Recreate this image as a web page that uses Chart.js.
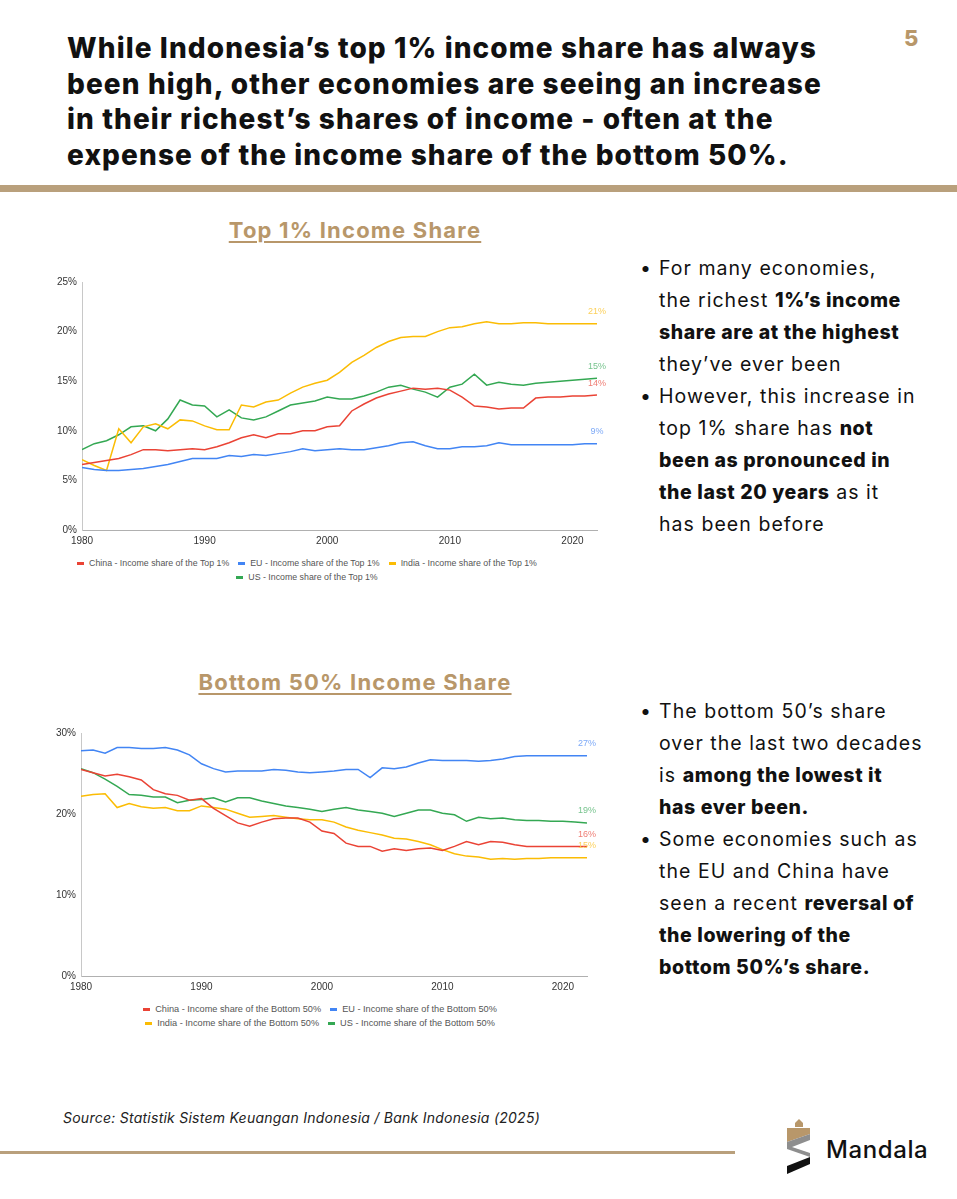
<!DOCTYPE html>
<html>
<head>
<meta charset="utf-8">
<script src="https://cdn.jsdelivr.net/npm/chart.js@4.4.1/dist/chart.umd.min.js"></script>
<style>
  body { margin: 0; background: #fff; }
  #page { position: relative; width: 957px; height: 1199px; overflow: hidden; font-family: Inter, "Open Sans", sans-serif; color: #111; }
  .title { position: absolute; left: 67px; top: 31px; width: 860px; font-size: 28px; font-weight: 800; line-height: 35.5px; letter-spacing: 1.1px; white-space: nowrap; }
  .pagenum { position: absolute; left: 904px; top: 25px; font-size: 22px; font-weight: 800; color: #b8976a; }
  .rule-top { position: absolute; left: 0; top: 185px; width: 957px; height: 7px; background: #b9a07c; }
  .rule-bottom { position: absolute; left: 0; top: 1151px; width: 735px; height: 3px; background: #b9a07c; }
  .subtitle { position: absolute; width: 710px; left: 0; text-align: center; font-size: 22px; font-weight: 700; letter-spacing: 1.2px; color: #b8976a; text-decoration: underline; text-underline-offset: 3px; }
  .chartbox { position: absolute; left: 0; }
  .legend { position: absolute; font-family: "Liberation Sans", Arial, sans-serif; color: #555; }
  .legend .row { display: flex; justify-content: center; gap: 9px; height: 14px; align-items: center; }
  .legend .item { display: flex; align-items: center; white-space: nowrap; }
  .legend .dash { display: inline-block; width: 7px; height: 3px; margin-right: 5px; }
  .bullets { position: absolute; left: 640px; width: 317px; font-size: 19.5px; line-height: 32px; letter-spacing: 1.05px; margin: 0; padding: 0; list-style: none; white-space: nowrap; }
  .bullets li { position: relative; padding-left: 19px; }
  .bullets li::before { content: "\2022"; position: absolute; left: 0; top: 0; }
  .bullets b { font-weight: 800; letter-spacing: 0.6px; }
  .source { position: absolute; left: 63px; top: 1109px; font-size: 14px; font-style: italic; letter-spacing: 0.25px; color: #222; }
  .brand { position: absolute; left: 826px; top: 1135px; font-size: 24px; font-weight: 500; letter-spacing: 0.6px; color: #111; }
</style>
</head>
<body>
<div id="page">
  <div class="title">While Indonesia’s top 1% income share has always<br>been high, other economies are seeing an increase<br>in their richest’s shares of income - often at the<br>expense of the income share of the bottom 50%.</div>
  <div class="pagenum">5</div>
  <div class="rule-top"></div>

  <div class="subtitle" style="top:217px;">Top 1% Income Share</div>
  <div class="chartbox" style="top:271px; width:614px; height:281px;"><canvas id="topChart"></canvas></div>
  <div class="legend" id="topLegend" style="left:0; width:614px; top:556px; font-size:8.8px;"></div>

  <ul class="bullets" style="top:252px;">
    <li>For many economies,<br>the richest <b>1%’s income<br>share are at the highest</b><br>they’ve ever been</li>
    <li>However, this increase in<br>top 1% share has <b>not<br>been as pronounced in<br>the last 20 years</b> as it<br>has been before</li>
  </ul>

  <div class="subtitle" style="top:669px;">Bottom 50% Income Share</div>
  <div class="chartbox" style="top:722px; width:600px; height:276px;"><canvas id="bottomChart"></canvas></div>
  <div class="legend" id="bottomLegend" style="left:0; width:640px; top:1002px; font-size:9.2px;"></div>

  <ul class="bullets" style="top:695px;">
    <li>The bottom 50’s share<br>over the last two decades<br>is <b>among the lowest it<br>has ever been.</b></li>
    <li>Some economies such as<br>the EU and China have<br>seen a recent <b>reversal of<br>the lowering of the<br>bottom 50%’s share.</b></li>
  </ul>

  <div class="source">Source: Statistik Sistem Keuangan Indonesia / Bank Indonesia (2025)</div>
  <div class="rule-bottom"></div>

  <svg style="position:absolute; left:780px; top:1118px;" width="40" height="60" viewBox="0 0 40 60">
    <polygon points="15,5 19,1 23,5 23,9 15,9" fill="#b8976a"/>
    <polygon points="7,10 30,10 30,16 7,24" fill="#b8976a"/>
    <polygon points="7,24 30,16 30,22 12,29 30,35 30,39 7,31" fill="#8e8e8e"/>
    <polygon points="30,39 30,46 7,56 7,48" fill="#111"/>
  </svg>
  <div class="brand">Mandala</div>
</div>

<script>
// Years on the x axis (1980 - 2022)
const years = [];
for (let y = 1980; y <= 2022; y++) years.push(y);
const xTickLabels = [1980, 1990, 2000, 2010, 2020];

// Top 1% income share (%)
const chinaTop1 = [6.6, 6.8, 7.0, 7.2, 7.6, 8.1, 8.1, 8.0, 8.1, 8.2, 8.1, 8.4, 8.8, 9.3, 9.6, 9.3, 9.7, 9.7, 10.0, 10.0, 10.4, 10.5,
  12.0, 12.7, 13.3, 13.7, 14.0, 14.3, 14.2, 14.3, 14.1, 13.4, 12.5, 12.4, 12.2, 12.3, 12.3, 13.3, 13.4, 13.4, 13.5, 13.5, 13.6];
const euTop1 = [6.3, 6.1, 6.0, 6.0, 6.1, 6.2, 6.4, 6.6, 6.9, 7.2, 7.2, 7.2, 7.5, 7.4, 7.6, 7.5, 7.7, 7.9, 8.2, 8.0, 8.1, 8.2,
  8.1, 8.1, 8.3, 8.5, 8.8, 8.9, 8.5, 8.2, 8.2, 8.4, 8.4, 8.5, 8.8, 8.6, 8.6, 8.6, 8.6, 8.6, 8.6, 8.7, 8.7];
const indiaTop1 = [7.1, 6.5, 6.0, 10.2, 8.8, 10.4, 10.7, 10.2, 11.1, 11.0, 10.5, 10.1, 10.1, 12.6, 12.4, 12.9, 13.1, 13.8, 14.4, 14.8, 15.1, 15.9,
  16.9, 17.6, 18.4, 19.0, 19.4, 19.5, 19.5, 20.0, 20.4, 20.5, 20.8, 21.0, 20.8, 20.8, 20.9, 20.9, 20.8, 20.8, 20.8, 20.8, 20.8];
const usTop1 = [8.1, 8.7, 9.0, 9.6, 10.4, 10.5, 10.0, 11.2, 13.1, 12.6, 12.5, 11.4, 12.1, 11.3, 11.1, 11.4, 12.0, 12.6, 12.8, 13.0, 13.4, 13.2,
  13.2, 13.5, 13.9, 14.4, 14.6, 14.2, 13.9, 13.4, 14.4, 14.7, 15.7, 14.6, 14.9, 14.7, 14.6, 14.8, 14.9, 15.0, 15.1, 15.2, 15.3];

// Bottom 50% income share (%)
const chinaBottom50 = [25.5, 25.1, 24.7, 24.9, 24.6, 24.2, 23.0, 22.5, 22.3, 21.7, 21.9, 20.7, 19.8, 18.9, 18.5, 19.0, 19.4, 19.5, 19.5, 19.0, 17.9, 17.6,
  16.4, 16.0, 16.0, 15.4, 15.7, 15.5, 15.7, 15.8, 15.5, 16.0, 16.6, 16.2, 16.6, 16.5, 16.2, 16.0, 16.0, 16.0, 16.0, 16.0, 16.0];
const euBottom50 = [27.8, 27.9, 27.5, 28.2, 28.2, 28.1, 28.1, 28.2, 27.9, 27.3, 26.2, 25.6, 25.2, 25.3, 25.3, 25.3, 25.5, 25.4, 25.2, 25.1, 25.2, 25.3,
  25.5, 25.5, 24.5, 25.7, 25.6, 25.8, 26.3, 26.7, 26.6, 26.6, 26.6, 26.5, 26.6, 26.8, 27.1, 27.2, 27.2, 27.2, 27.2, 27.2, 27.2];
const indiaBottom50 = [22.2, 22.4, 22.5, 20.8, 21.3, 20.9, 20.7, 20.8, 20.4, 20.4, 21.0, 20.8, 20.6, 20.1, 19.6, 19.7, 19.8, 19.6, 19.4, 19.3, 19.3, 19.0,
  18.4, 18.0, 17.7, 17.4, 17.0, 16.9, 16.6, 16.2, 15.6, 15.1, 14.8, 14.7, 14.4, 14.5, 14.4, 14.5, 14.5, 14.6, 14.6, 14.6, 14.6];
const usBottom50 = [25.6, 25.1, 24.3, 23.4, 22.4, 22.3, 22.1, 22.1, 21.4, 21.7, 21.8, 22.0, 21.5, 22.0, 22.0, 21.6, 21.3, 21.0, 20.8, 20.6, 20.3, 20.6,
  20.8, 20.5, 20.3, 20.1, 19.7, 20.1, 20.5, 20.5, 20.1, 19.9, 19.1, 19.6, 19.4, 19.5, 19.3, 19.2, 19.2, 19.1, 19.1, 19.0, 18.9];

const countries = ["China", "EU", "India", "US"];
const lineColors = ["#ea4335", "#4285f4", "#fbbc04", "#34a853"];
const labelColors = ["#ef7d74", "#7eaaf7", "#fcd05a", "#76c38d"];

function toPoints(values) {
  return values.map(function (v, i) { return { x: years[i], y: v }; });
}

// Draws the rounded last value above the end of each line
const endLabels = {
  id: "endLabels",
  afterDatasetsDraw: function (chart) {
    const ctx = chart.ctx;
    ctx.save();
    ctx.font = "9px 'Liberation Sans', Arial, sans-serif";
    ctx.textAlign = "center";
    ctx.textBaseline = "middle";
    chart.data.datasets.forEach(function (ds, i) {
      const meta = chart.getDatasetMeta(i);
      const last = meta.data[meta.data.length - 1];
      const value = ds.data[ds.data.length - 1].y;
      ctx.fillStyle = labelColors[i];
      ctx.fillText(Math.round(value) + "%", last.x, last.y - 12);
    });
    ctx.restore();
  }
};

function makeChart(canvasId, seriesList, suffix, yMax, yStep, yWidth, padRight) {
  const datasets = seriesList.map(function (values, i) {
    return {
      label: countries[i] + " - Income share of the " + suffix,
      data: toPoints(values),
      borderColor: lineColors[i],
      backgroundColor: lineColors[i],
      borderWidth: 1.5,
      pointRadius: 0,
      tension: 0,
      fill: false
    };
  });

  return new Chart(document.getElementById(canvasId), {
    type: "line",
    data: { datasets: datasets },
    options: {
      responsive: true,
      maintainAspectRatio: false,
      animation: false,
      layout: { padding: { top: 5, right: padRight, left: 0, bottom: 0 } },
      plugins: { legend: { display: false }, tooltip: { enabled: false } },
      scales: {
        x: {
          type: "linear",
          min: 1980,
          max: 2022,
          grid: { display: false, drawTicks: false },
          border: { display: true, color: "#b0b0b0", width: 1 },
          afterBuildTicks: function (scale) {
            scale.ticks = xTickLabels.map(function (v) { return { value: v }; });
          },
          ticks: {
            padding: 5,
            color: "#333",
            font: { family: "'Liberation Sans', Arial, sans-serif", size: 10 },
            callback: function (v) { return String(v); }
          }
        },
        y: {
          min: 0,
          max: yMax,
          grid: { display: false, drawTicks: false },
          border: { display: true, color: "#c8c8c8", width: 1 },
          afterFit: function (scale) { scale.width = yWidth; },
          ticks: {
            stepSize: yStep,
            padding: 5,
            color: "#333",
            font: { family: "'Liberation Sans', Arial, sans-serif", size: 10 },
            callback: function (v) { return v + "%"; }
          }
        }
      }
    },
    plugins: [endLabels]
  });
}

function buildLegend(containerId, suffix, rows) {
  const box = document.getElementById(containerId);
  rows.forEach(function (row) {
    const rowDiv = document.createElement("div");
    rowDiv.className = "row";
    row.forEach(function (i) {
      const item = document.createElement("span");
      item.className = "item";
      item.innerHTML = '<span class="dash" style="background:' + lineColors[i] + '"></span>' +
        countries[i] + " - Income share of the " + suffix;
      rowDiv.appendChild(item);
    });
    box.appendChild(rowDiv);
  });
}

makeChart("topChart", [chinaTop1, euTop1, indiaTop1, usTop1], "Top 1%", 25, 5, 82, 17);
makeChart("bottomChart", [chinaBottom50, euBottom50, indiaBottom50, usBottom50], "Bottom 50%", 30, 10, 81, 13);
buildLegend("topLegend", "Top 1%", [[0, 1, 2], [3]]);
buildLegend("bottomLegend", "Bottom 50%", [[0, 1], [2, 3]]);
</script>
</body>
</html>
